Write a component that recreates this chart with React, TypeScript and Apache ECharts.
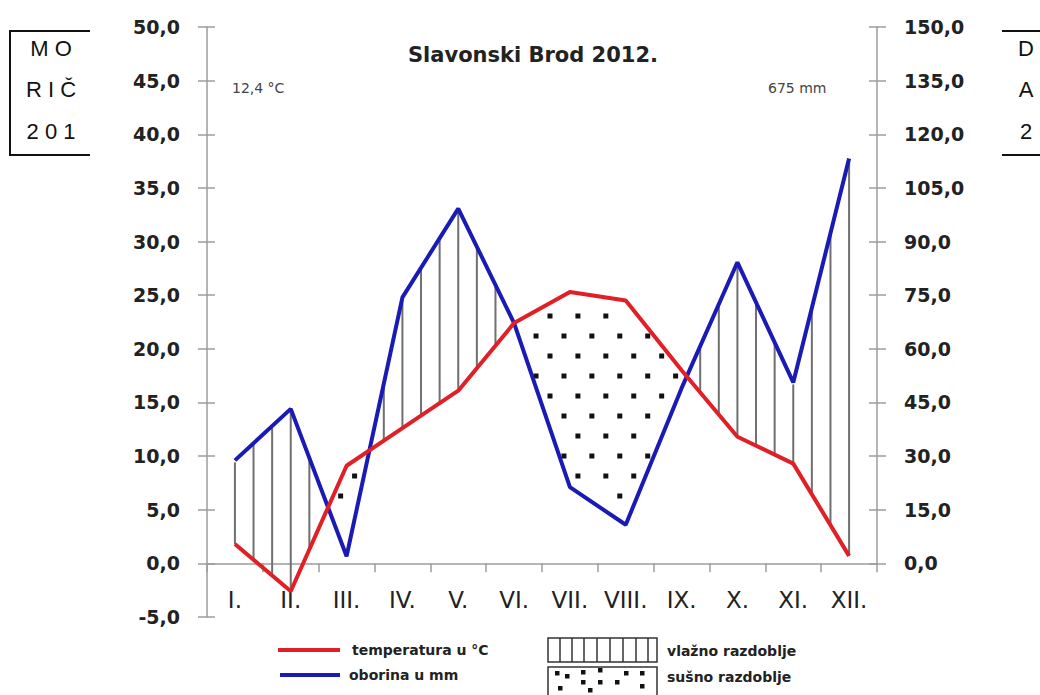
import React, { useEffect, useRef } from "react";
import * as echarts from "echarts";

const MONTHS = ["I.", "II.", "III.", "IV.", "V.", "VI.", "VII.", "VIII.", "IX.", "X.", "XI.", "XII."];
const TEMPERATURE = [1.8, -2.6, 9.1, 12.6, 16.1, 22.4, 25.3, 24.5, 18.0, 11.8, 9.3, 0.7];
const PRECIPITATION = [28.8, 43.2, 2.0, 74.4, 99.2, 67.2, 21.3, 10.8, 49.0, 84.2, 50.6, 113.2];
const TEMP_AXIS = { min: -5, max: 50, step: 5 };
const PRECIP_AXIS = { min: 0, max: 150, step: 15 };
const TITLE = "Slavonski Brod 2012.";
const MEAN_TEMP = "12,4 °C";
const TOTAL_PRECIP = "675 mm";
const LEGEND_LABELS = ["temperatura u °C", "oborina u mm", "vlažno razdoblje", "sušno razdoblje"];
const SIDE_LEFT = ["M O", "R I Č", "2 0 1"];
const SIDE_RIGHT = ["D", "A", "2"];

const RED = "#e01f26";
const BLUE = "#1a1ab4";
const AXIS = "#9c9c9c";
const FONT = "DejaVu Sans";

const fmt = (v: number) => v.toFixed(1).replace(".", ",");

function interp(pts: number[][], x: number) {
  for (let i = 0; i < pts.length - 1; i++) {
    const a = pts[i], b = pts[i + 1];
    if (x >= a[0] - 0.01 && x <= b[0] + 0.01) {
      const t = (x - a[0]) / (b[0] - a[0]);
      return a[1] + t * (b[1] - a[1]);
    }
  }
  return null;
}

function renderClimate(params: any, api: any) {
  const T = MONTHS.map((_, i) => api.coord([i, TEMPERATURE[i]]));
  const P = MONTHS.map((_, i) => api.coord([i, PRECIPITATION[i] / 3]));
  const band = T[1][0] - T[0][0];
  const children: any[] = [];
  // humid period: vertical hatching
  const step = band / 3;
  for (let x = T[0][0]; x <= T[T.length - 1][0] + 0.5; x += step) {
    const yT = interp(T, x);
    const yP = interp(P, x);
    if (yT == null || yP == null) continue;
    if (yT - yP > 4) {
      children.push({
        type: "line",
        shape: { x1: x, y1: yP + 2, x2: x, y2: yT },
        style: { stroke: "#6f6f6f", lineWidth: 2 },
      });
    }
  }
  // arid period: dots
  const top = api.coord([0, TEMP_AXIS.max])[1];
  const bottom = api.coord([0, 0])[1];
  const dx = band / 2;
  const dy = 20;
  let row = 0;
  for (let y = top + 9; y < bottom; y += dy, row++) {
    const off = (row % 2) * dx / 2;
    for (let x = T[0][0] + 8 + off; x < T[T.length - 1][0]; x += dx) {
      const yT = interp(T, x);
      const yP = interp(P, x);
      if (yT == null || yP == null) continue;
      if (y > yT + 7 && y < yP - 7) {
        children.push({
          type: "rect",
          shape: { x: x - 2.5, y: y - 2.5, width: 5, height: 5 },
          style: { fill: "#111" },
        });
      }
    }
  }
  return { type: "group", children };
}

function legendGraphics() {
  const g: any[] = [];
  g.push({ type: "line", shape: { x1: 278, y1: 650, x2: 340, y2: 650 }, style: { stroke: RED, lineWidth: 4 } });
  g.push({ type: "line", shape: { x1: 280, y1: 675, x2: 340, y2: 675 }, style: { stroke: BLUE, lineWidth: 4 } });
  g.push({ type: "text", x: 352, y: 650, style: { text: LEGEND_LABELS[0], font: `bold 14px '${FONT}'`, fill: "#222", textVerticalAlign: "middle" } });
  g.push({ type: "text", x: 349, y: 675, style: { text: LEGEND_LABELS[1], font: `bold 14px '${FONT}'`, fill: "#222", textVerticalAlign: "middle" } });
  g.push({ type: "rect", shape: { x: 548, y: 638, width: 109, height: 24 }, style: { fill: "none", stroke: "#333", lineWidth: 1.5 } });
  [560, 572, 584, 597, 610, 623, 636, 648].forEach((x) =>
    g.push({ type: "line", shape: { x1: x, y1: 638, x2: x, y2: 662 }, style: { stroke: "#333", lineWidth: 1.5 } })
  );
  g.push({ type: "rect", shape: { x: 548, y: 667, width: 109, height: 40 }, style: { fill: "none", stroke: "#333", lineWidth: 1.5 } });
  [
    [557, 673], [567, 676], [583, 672], [583, 682], [600, 670], [600, 682],
    [617, 682], [626, 673], [642, 673], [642, 686], [560, 688], [590, 690],
  ].forEach(([x, y]) =>
    g.push({ type: "rect", shape: { x: x - 2, y: y - 2, width: 4.5, height: 4.5 }, style: { fill: "#111" } })
  );
  g.push({ type: "text", x: 667, y: 651, style: { text: LEGEND_LABELS[2], font: `bold 14px '${FONT}'`, fill: "#222", textVerticalAlign: "middle" } });
  g.push({ type: "text", x: 667, y: 677, style: { text: LEGEND_LABELS[3], font: `bold 14px '${FONT}'`, fill: "#222", textVerticalAlign: "middle" } });
  return g;
}

function sideGraphics() {
  const g: any[] = [];
  g.push({ type: "polyline", shape: { points: [[90, 31], [10, 31], [10, 155], [90, 155]] }, style: { stroke: "#111", lineWidth: 2, fill: "none" } });
  g.push({ type: "line", shape: { x1: 1002, y1: 31, x2: 1040, y2: 31 }, style: { stroke: "#111", lineWidth: 2 } });
  g.push({ type: "line", shape: { x1: 1002, y1: 155, x2: 1040, y2: 155 }, style: { stroke: "#111", lineWidth: 2 } });
  const ys = [48, 89, 131];
  SIDE_LEFT.forEach((t, i) =>
    g.push({ type: "text", x: 51, y: ys[i], style: { text: t, font: "22px 'Liberation Sans'", fill: "#111", textAlign: "center", textVerticalAlign: "middle" } })
  );
  SIDE_RIGHT.forEach((t, i) =>
    g.push({ type: "text", x: 1026, y: ys[i], style: { text: t, font: "22px 'Liberation Sans'", fill: "#111", textAlign: "center", textVerticalAlign: "middle" } })
  );
  return g;
}

export default function App() {
  const ref = useRef<HTMLDivElement>(null);
  useEffect(() => {
    if (!ref.current) return;
    const chart = echarts.init(ref.current, null, { renderer: "svg" });
    const gridTop = 27;
    const tempHeight = 590;
    const precipHeight = (tempHeight * (TEMP_AXIS.max - 0)) / (TEMP_AXIS.max - TEMP_AXIS.min);
    const zeroOffset = tempHeight - precipHeight;
    const axisLine = { show: true, lineStyle: { color: AXIS, width: 1.5 } };
    const tickStyle = { color: AXIS, width: 1.5 };
    const labelStyle = { fontFamily: FONT, fontWeight: "bold" as const, fontSize: 19, color: "#222" };
    const option: any = {
      animation: false,
      grid: [
        { left: 207, right: 163, top: gridTop, height: tempHeight },
        { left: 207, right: 163, top: gridTop, height: precipHeight },
      ],
      xAxis: [
        {
          type: "category", gridIndex: 0, data: MONTHS, boundaryGap: true,
          axisLine: { show: true, onZero: true, lineStyle: { color: AXIS, width: 1.5 } },
          axisTick: { show: true, interval: 0, length: 9, lineStyle: tickStyle },
          axisLabel: { show: false },
          splitLine: { show: false },
        },
        { type: "category", gridIndex: 1, data: MONTHS, boundaryGap: true, show: false },
        {
          type: "category", gridIndex: 0, data: MONTHS, boundaryGap: true, position: "bottom",
          offset: -zeroOffset,
          axisLine: { show: false, onZero: false },
          axisTick: { show: false },
          axisLabel: { interval: 0, margin: 25, fontFamily: FONT, fontSize: 23, color: "#222" },
          splitLine: { show: false },
        },
      ],
      yAxis: [
        {
          type: "value", gridIndex: 0, position: "left", min: TEMP_AXIS.min, max: TEMP_AXIS.max, interval: TEMP_AXIS.step,
          axisLine, axisTick: { show: true, length: 9, lineStyle: tickStyle },
          axisLabel: { ...labelStyle, margin: 27, formatter: fmt },
          splitLine: { show: false },
        },
        {
          type: "value", gridIndex: 1, position: "right", min: PRECIP_AXIS.min, max: PRECIP_AXIS.max, interval: PRECIP_AXIS.step,
          axisLine, axisTick: { show: true, length: 9, lineStyle: tickStyle },
          axisLabel: { ...labelStyle, margin: 27, formatter: fmt },
          splitLine: { show: false },
        },
        {
          type: "value", gridIndex: 0, position: "left", min: TEMP_AXIS.min, max: TEMP_AXIS.max, interval: TEMP_AXIS.step,
          axisLine: { show: false }, axisTick: { show: true, inside: true, length: 8, lineStyle: tickStyle },
          axisLabel: { show: false }, splitLine: { show: false },
        },
        {
          type: "value", gridIndex: 1, position: "right", min: PRECIP_AXIS.min, max: PRECIP_AXIS.max, interval: PRECIP_AXIS.step,
          axisLine: { show: false }, axisTick: { show: true, inside: true, length: 8, lineStyle: tickStyle },
          axisLabel: { show: false }, splitLine: { show: false },
        },
      ],
      series: [
        {
          type: "custom", xAxisIndex: 0, yAxisIndex: 0, z: 1,
          data: [[0, 0]], renderItem: renderClimate, silent: true,
        },
        {
          type: "line", name: LEGEND_LABELS[0], xAxisIndex: 0, yAxisIndex: 0, data: TEMPERATURE, z: 4,
          symbol: "none", lineStyle: { color: RED, width: 4 }, itemStyle: { color: RED },
        },
        {
          type: "line", name: LEGEND_LABELS[1], xAxisIndex: 1, yAxisIndex: 1, data: PRECIPITATION, z: 3,
          symbol: "none", lineStyle: { color: BLUE, width: 4 }, itemStyle: { color: BLUE },
        },
      ],
      graphic: [
        { type: "text", x: 533, y: 55, style: { text: TITLE, font: `bold 21px '${FONT}'`, fill: "#222", textAlign: "center", textVerticalAlign: "middle" } },
        { type: "text", x: 232, y: 88, style: { text: MEAN_TEMP, font: `14px '${FONT}'`, fill: "#444", textVerticalAlign: "middle" } },
        { type: "text", x: 768, y: 88, style: { text: TOTAL_PRECIP, font: `14px '${FONT}'`, fill: "#444", textVerticalAlign: "middle" } },
        ...legendGraphics(),
        ...sideGraphics(),
      ],
    };
    chart.setOption(option);
    return () => chart.dispose();
  }, []);
  return (
    <div
      ref={ref}
      style={{ position: "fixed", left: 0, top: 0, width: 1040, height: 695, background: "#fff" }}
    />
  );
}
